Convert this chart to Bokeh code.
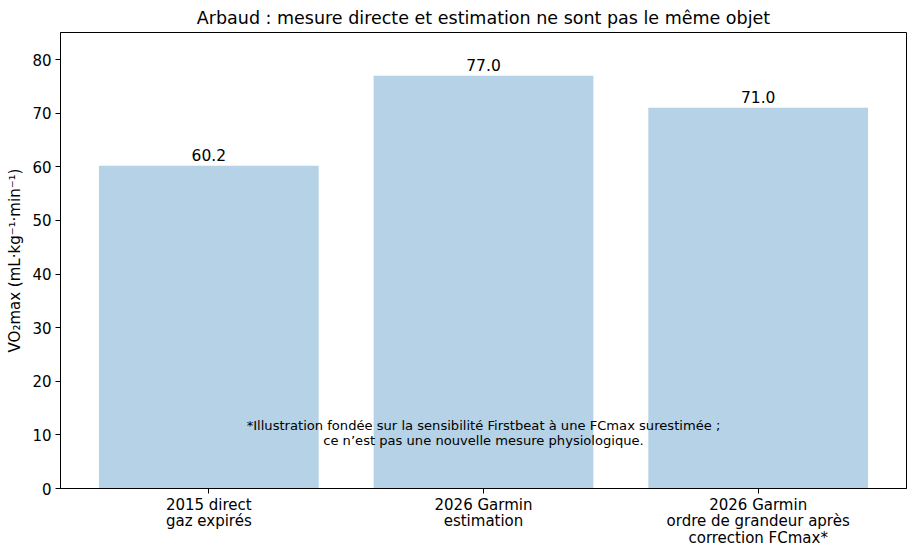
from bokeh.plotting import figure
from bokeh.models import ColumnDataSource, FixedTicker, Range1d
from bokeh.core.properties import value
from bokeh.embed import file_html
from bokeh.resources import INLINE

categories = ["2015 direct\ngaz expirés", "2026 Garmin\nestimation",
              "2026 Garmin\nordre de grandeur après\ncorrection FCmax*"]
values = [60.2, 77.0, 71.0]
value_labels = ["60.2", "77.0", "71.0"]
y_ticks = [0, 10, 20, 30, 40, 50, 60, 70, 80]
title_text = "Arbaud : mesure directe et estimation ne sont pas le même objet"
y_label = "VO₂max (mL·kg⁻¹·min⁻¹)"
footnote = ("*Illustration fondée sur la sensibilité Firstbeat à une FCmax surestimée ;\n"
            "ce n’est pas une nouvelle mesure physiologique.")

FONT = "DejaVu Sans"
xs = list(range(len(categories)))
src = ColumnDataSource(dict(x=xs, top=values, lab=value_labels))

p = figure(width=908, height=549, output_backend="svg", toolbar_location=None,
           x_range=Range1d(-0.54, 2.54), y_range=Range1d(0, 85.05),
           min_border_left=60, min_border_right=2, min_border_top=26, min_border_bottom=0)

p.title.text = title_text
p.title.align = "center"
p.title.text_font = FONT
p.title.text_font_size = "17.5px"
p.title.text_font_style = "normal"
p.title.text_color = "black"

p.vbar(x="x", top="top", width=0.8, bottom=0, source=src,
       fill_color="#1f77b4", fill_alpha=0.33, line_color=None)

p.text(x="x", y="top", text="lab", source=src, text_align="center",
       text_baseline="bottom", y_offset=-5, text_font=value(FONT),
       text_font_size="15.5px", text_color="black")

p.text(x=[1], y=[10.4], text=[footnote], text_align="center", text_baseline="middle",
       text_font=value(FONT), text_font_size="13.1px", text_color="black",
       text_line_height=0.98)

p.xgrid.visible = False
p.ygrid.visible = False
p.outline_line_color = "black"
p.outline_line_width = 1
p.outline_line_alpha = 1

p.xaxis.ticker = FixedTicker(ticks=xs)
p.xaxis.major_label_overrides = {i: c for i, c in enumerate(categories)}
p.yaxis.ticker = FixedTicker(ticks=y_ticks)
p.yaxis.axis_label = y_label

for ax in (p.xaxis[0], p.yaxis[0]):
    ax.major_label_text_font = FONT
    ax.major_label_text_font_size = "15px"
    ax.major_label_text_color = "black"
    ax.axis_line_color = "black"
    ax.major_tick_line_color = "black"
    ax.major_tick_out = 5
    ax.major_tick_in = 0
    ax.minor_tick_line_color = None
    ax.axis_label_text_font = FONT
    ax.axis_label_text_font_size = "15px"
    ax.axis_label_text_font_style = "normal"
    ax.axis_label_text_color = "black"
    ax.major_label_standoff = 4

p.xaxis.major_label_standoff = 2
p.xaxis.major_label_text_line_height = 0.93
p.yaxis.axis_label_standoff = 5

open("out.html", "w").write(file_html(p, INLINE))
